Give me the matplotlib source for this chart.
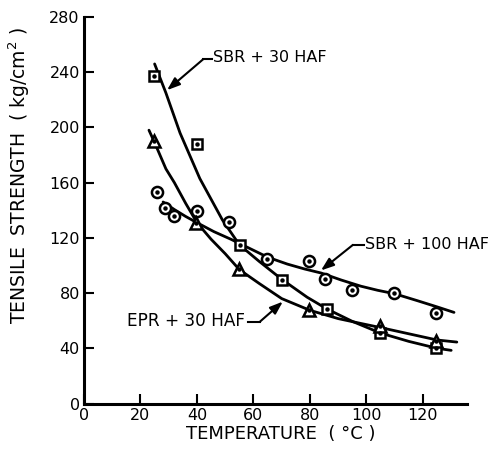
import matplotlib
matplotlib.use("Agg")
import matplotlib.pyplot as plt

# ---- measured points (temperature °C, tensile strength kg/cm2) ----
sbr30_temp = [24.8, 40.0, 55.2, 70.2, 85.9, 104.8, 124.6]
sbr30_ts = [237, 188, 115, 89.5, 68.5, 51, 40]

sbr100_temp = [26.0, 28.7, 32.0, 40.1, 51.2, 64.7, 79.6, 85.3, 95.0, 109.8, 124.8]
sbr100_ts = [153, 141.5, 135.5, 139.7, 131.5, 105, 103, 90, 82, 80, 65.8]

epr30_temp = [24.8, 39.6, 55.0, 79.8, 104.8, 124.6]
epr30_ts = [190, 131, 97.5, 67.7, 56, 45.5]

# ---- hand-drawn fitted curves ----
sbr30_curve_temp = [25, 29, 34, 41, 49, 55, 62, 70, 79, 86, 95, 105, 115, 125, 130]
sbr30_curve_ts = [246, 225, 196, 163, 133, 115, 103, 90, 77, 68.5, 59.5, 51, 45, 40, 38.5]

sbr100_curve_temp = [28, 32, 36, 40, 46, 52, 56, 60, 65, 72, 78, 84, 91, 98, 104, 110, 118, 125, 131]
sbr100_curve_ts = [146, 140.5, 135.5, 131, 124.5, 119, 115, 111, 106, 101, 97.5, 94.5, 89.5, 85, 82, 79.5, 74.5, 70, 66]

epr30_curve_temp = [23, 25, 29, 32, 36, 40, 45, 50, 55, 62, 70, 80, 90, 98, 105, 115, 125, 132]
epr30_curve_ts = [198, 189, 170, 160, 145, 131, 119, 108.5, 97, 87, 76, 67.5, 61.5, 58, 55, 50.5, 46, 44.5]

x_ticks = [0, 20, 40, 60, 80, 100, 120]
y_ticks = [0, 40, 80, 120, 160, 200, 240, 280]

plt.rcParams['font.family'] = ['DejaVu Sans']

fig = plt.figure(figsize=(4.89, 4.49), dpi=100)
W, H = 489, 449
ax = fig.add_axes([84 / W, 1 - 403.5 / H, (467 - 84) / W, (403.5 - 17) / H])
ax.set_xlim(0, 135.6)
ax.set_ylim(0, 280)

for s in ['top', 'right']:
    ax.spines[s].set_visible(False)
for s in ['left', 'bottom']:
    ax.spines[s].set_linewidth(2.2)

ax.set_xticks(x_ticks)
ax.set_yticks(y_ticks)
ax.tick_params(axis='both', direction='in', length=7, width=1.5, labelsize=11.5)
ax.tick_params(axis='x', pad=3.5)
ax.tick_params(axis='y', pad=3)

lw = 2.0
for cx, cy in [(sbr30_curve_temp, sbr30_curve_ts),
               (sbr100_curve_temp, sbr100_curve_ts),
               (epr30_curve_temp, epr30_curve_ts)]:
    ax.plot(cx, cy, color='black', lw=lw, solid_joinstyle='round',
            solid_capstyle='round', zorder=2)

mkw = dict(linestyle='none', markerfacecolor='white', markeredgecolor='black',
           markeredgewidth=1.8, zorder=3)
ax.plot(sbr30_temp, sbr30_ts, marker='s', markersize=7, **mkw)
ax.plot(sbr100_temp, sbr100_ts, marker='o', markersize=8, **mkw)
ax.plot(epr30_temp, epr30_ts, marker='^', markersize=9, **mkw)
for xs, ys in [(sbr30_temp, sbr30_ts), (sbr100_temp, sbr100_ts), (epr30_temp, epr30_ts)]:
    ax.plot(xs, ys, linestyle='none', marker='o', markersize=2.2, color='black', zorder=4)

# ---- labels with leader arrows ----
fs = 11.5
arrow = dict(arrowstyle='-|>,head_length=0.55,head_width=0.2', color='black', lw=1.5,
             shrinkA=0, shrinkB=0, mutation_scale=14)

ax.text(45.7, 250.5, 'SBR + 30 HAF', fontsize=fs, ha='left', va='center', zorder=5)
ax.plot([42.2, 45.3], [249.4, 249.4], color='black', lw=1.5, clip_on=False)
ax.annotate('', xy=(29.4, 227), xytext=(42.2, 249.4), arrowprops=arrow)

ax.text(99.5, 115.5, 'SBR + 100 HAF', fontsize=fs, ha='left', va='center', zorder=5, clip_on=False)
ax.plot([95.2, 99.0], [114.9, 114.9], color='black', lw=1.5, clip_on=False)
ax.annotate('', xy=(83.9, 96.4), xytext=(95.2, 114.9), arrowprops=arrow)

ax.text(57.0, 59.8, 'EPR + 30 HAF', fontsize=12.2, ha='right', va='center', zorder=5)
ax.plot([58.2, 62.3], [59.3, 59.3], color='black', lw=1.5)
ax.annotate('', xy=(70.4, 73.8), xytext=(62.3, 59.3), arrowprops=arrow)

ax.set_xlabel('TEMPERATURE  ( °C )', fontsize=13)
ax.xaxis.set_label_coords((281 - 84) / 383, (403.5 - 425) / 386.5)

ax.set_ylabel('TENSILE  STRENGTH  ( kg/cm$^{2}$ )', fontsize=13.5)
ax.yaxis.label.set_verticalalignment('center')
ax.yaxis.set_label_coords((19 - 84) / 383, (403.5 - 176) / 386.5)

fig.savefig('out.png', dpi=100)
